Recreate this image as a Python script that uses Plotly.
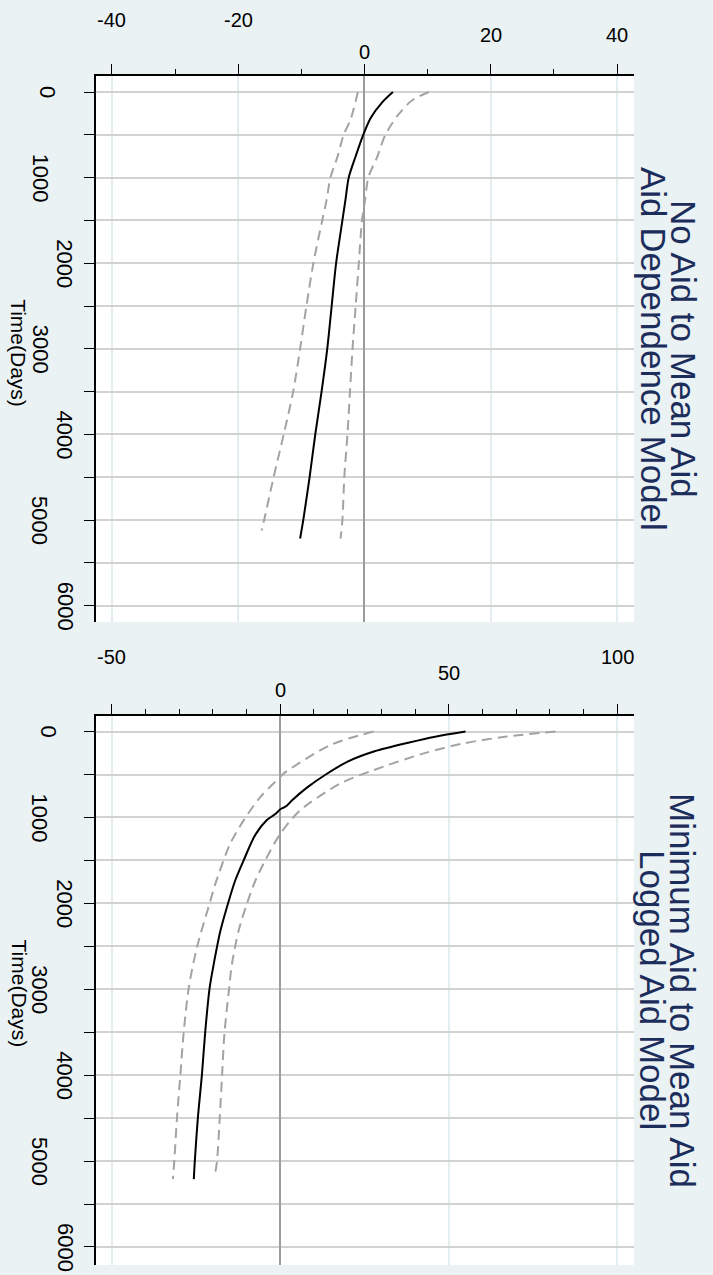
import plotly.graph_objects as go

# ---------------- data: panel 1 (No Aid to Mean Aid, Aid Dependence Model)
t1_est = [0, 120, 300, 500, 750, 1000, 1250, 1500, 2000, 2500, 3000, 3500, 4000, 4500, 5000, 5215]
est1 = [4.5, 2.8, 1.0, -0.2, -1.4, -2.5, -3.0, -3.5, -4.5, -5.2, -5.9, -6.8, -7.8, -8.7, -9.7, -10.2]
t1_hi = [0, 100, 280, 500, 760, 1000, 1260, 1500, 2000, 2500, 3000, 3500, 4000, 4500, 5000, 5215]
hi1 = [10.2, 7.5, 5.2, 3.3, 2.0, 0.6, 0.1, -0.4, -0.9, -1.4, -1.9, -2.3, -2.7, -3.2, -3.5, -3.8]
t1_lo = [0, 320, 500, 760, 1000, 1260, 1500, 2000, 2500, 3000, 3500, 4000, 4500, 5000, 5120]
lo1 = [-1.05, -2.2, -3.3, -4.3, -5.4, -6.0, -6.7, -8.1, -9.2, -10.2, -11.3, -12.8, -14.4, -15.9, -16.3]

# ---------------- data: panel 2 (Minimum Aid to Mean Aid, Logged Aid Model)
t2_est = [0, 60, 130, 230, 350, 500, 650, 800, 860, 885, 905, 960, 1030, 1200, 1500, 1734, 1969,
          2320, 2711, 2984, 3492, 4000, 4500, 5000, 5210]
est2 = [55.0, 46.0, 38.0, 28.0, 20.0, 13.5, 8.0, 3.5, 2.0, 1.0, 0.0, -1.5, -4.0, -7.4, -10.9, -13.4, -15.3,
        -17.8, -19.8, -21.0, -22.3, -23.3, -24.5, -25.4, -25.7]
t2_hi = [0, 58, 137, 254, 449, 605, 917, 1190, 1500, 1734, 2000, 2320, 2711, 3023, 3512, 4000, 4500, 5000, 5130]
hi2 = [81.7, 67.3, 54.5, 42.6, 27.7, 17.8, 5.9, 0.0, -4.5, -7.4, -9.9, -12.4, -14.4, -15.3, -16.6, -17.3,
       -18.0, -18.8, -19.3]
t2_lo = [0, 156, 488, 527, 760, 1034, 1306, 1773, 2000, 2516, 2984, 3500, 4000, 4500, 5000, 5210]
lo2 = [27.7, 14.9, 1.0, 0.0, -5.9, -10.9, -14.9, -19.3, -21.0, -24.8, -27.2, -28.7, -29.7, -30.7, -31.5, -31.9]

# ---------------- tick labels
time_ticks = [0, 1000, 2000, 3000, 4000, 5000, 6000]
val_ticks1 = [-40, -20, 0, 20, 40]
val_ticks2 = [-50, 0, 50, 100]
titles1 = ["No Aid to Mean Aid", "Aid Dependence Model"]
titles2 = ["Minimum Aid to Mean Aid", "Logged Aid Model"]
time_title = "Time(Days)"

W, H = 713, 1275
BG = "#eaf2f3"
NAVY = "#1c2d5c"
GRID = "#d2d2d2"
DASHC = "#a3a3a3"
FONT = "Liberation Sans, Arial, sans-serif"

fig = go.Figure()

def add_panel(xa, ya, t_est, est, t_hi, hi, t_lo, lo):
    fig.add_trace(go.Scatter(x=lo, y=t_lo, mode="lines", xaxis=xa, yaxis=ya,
                             line=dict(color=DASHC, width=2, dash="10px,6px", shape="spline", smoothing=0.8),
                             showlegend=False))
    fig.add_trace(go.Scatter(x=hi, y=t_hi, mode="lines", xaxis=xa, yaxis=ya,
                             line=dict(color=DASHC, width=2, dash="10px,6px", shape="spline", smoothing=0.8),
                             showlegend=False))
    fig.add_trace(go.Scatter(x=est, y=t_est, mode="lines", xaxis=xa, yaxis=ya,
                             line=dict(color="black", width=2, shape="spline", smoothing=0.8),
                             showlegend=False))

add_panel("x", "y", t1_est, est1, t1_hi, hi1, t1_lo, lo1)
add_panel("x2", "y2", t2_est, est2, t2_hi, hi2, t2_lo, lo2)

def px_x(p):
    return p / W

def px_y(p):
    return 1 - p / H

xdom = [px_x(96), px_x(634)]
dom1 = [px_y(622), px_y(76)]
dom2 = [px_y(1265), px_y(716)]

def xaxis_cfg(rng, major, minor_dt, anchor):
    return dict(domain=xdom, range=rng, side="top", anchor=anchor,
                tickvals=major, ticks="outside", ticklen=10, tickwidth=1.3, tickcolor="black",
                minor=dict(dtick=minor_dt, tick0=0, ticks="outside", ticklen=5, tickwidth=1.3,
                           tickcolor="black", showgrid=False),
                showticklabels=False, showgrid=True, gridcolor="#e3eef0", gridwidth=1.5,
                zeroline=True, zerolinecolor="#9c9c9c", zerolinewidth=1.6,
                showline=True, linecolor="black", linewidth=1.5, fixedrange=True)

def yaxis_cfg(dom, rng, anchor):
    return dict(domain=dom, range=rng, anchor=anchor, side="left",
                tick0=0, dtick=500, ticks="outside", ticklen=10, tickwidth=1.3, tickcolor="black",
                showticklabels=False, showgrid=True, gridcolor=GRID, gridwidth=2,
                zeroline=False, showline=True, linecolor="black", linewidth=1.5, fixedrange=True)

fig.update_layout(
    width=W, height=H, margin=dict(l=0, r=0, t=0, b=0),
    paper_bgcolor=BG, plot_bgcolor="white",
    font=dict(family=FONT, color="black"),
    xaxis=xaxis_cfg([-42.53, 42.69], val_ticks1, 10, "y"),
    yaxis=yaxis_cfg(dom1, [6190, -187], "x"),
    xaxis2=xaxis_cfg([-54.75, 105.05], val_ticks2, 10, "y2"),
    yaxis2=yaxis_cfg(dom2, [6210, -181], "x2"),
)

ann = []
# staggered value-axis labels (top of each panel)
stag1 = {-40: 20, -20: 20, 0: 52, 20: 35, 40: 35}
for v in val_ticks1:
    ann.append(dict(x=v, xref="x", y=px_y(stag1[v]), yref="paper", text=str(v),
                    showarrow=False, font=dict(size=20, family=FONT, color="black"),
                    xanchor="center", yanchor="middle"))
stag2 = {-50: 657, 0: 690, 50: 673, 100: 657}
for v in val_ticks2:
    ann.append(dict(x=v, xref="x2", y=px_y(stag2[v]), yref="paper", text=str(v),
                    showarrow=False, font=dict(size=20, family=FONT, color="black"),
                    xanchor="center", yanchor="middle"))

# rotated time labels
def tx(v):
    if v == 0:
        return 48
    return 40 if (v // 1000) % 2 == 1 else 65

for yref in ["y", "y2"]:
    for v in time_ticks:
        ann.append(dict(x=px_x(tx(v)), xref="paper", y=v, yref=yref, text=str(v), textangle=90,
                        showarrow=False, font=dict(size=22, family=FONT, color="black"),
                        xanchor="center", yanchor="middle"))
    ann.append(dict(x=px_x(19), xref="paper", y=3050, yref=yref, text=time_title, textangle=90,
                    showarrow=False, font=dict(size=21, family=FONT, color="black"),
                    xanchor="center", yanchor="middle"))

# rotated panel titles
for titles, yc in [(titles1, 349), (titles2, 990)]:
    for i, txt in enumerate(titles):
        xc = 683 - 30 * i
        ann.append(dict(x=px_x(xc), xref="paper", y=px_y(yc), yref="paper", text=txt, textangle=90,
                        showarrow=False, font=dict(size=35, family=FONT, color=NAVY),
                        xanchor="center", yanchor="middle"))

fig.update_layout(annotations=ann)
fig.write_html("out.html", config={"displayModeBar": False},
               post_script="document.body.style.margin='0px';document.body.style.overflow='hidden';")
